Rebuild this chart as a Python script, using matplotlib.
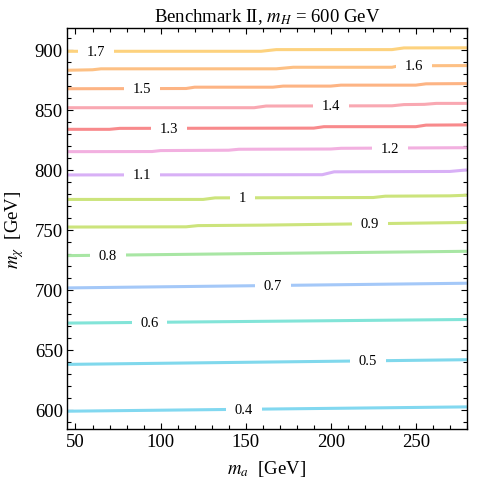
import numpy as np
import matplotlib
matplotlib.use('Agg')
import matplotlib.pyplot as plt
from matplotlib.ticker import MultipleLocator

plt.rcParams['font.family'] = ['Liberation Serif', 'DejaVu Serif']
plt.rcParams['mathtext.fontset'] = 'stix'

# contour levels and their colours
levels = ['0.4', '0.5', '0.6', '0.7', '0.8', '0.9', '1', '1.1', '1.2', '1.3', '1.4', '1.5', '1.6', '1.7']
colors = ['#82d8f0', '#80d8ec', '#82e4d8', '#a4c8f8', '#a8e6a4', '#cce47c', '#cce47c',
          '#d8b0f6', '#f2b0e0', '#f88a8c', '#f9a8b2', '#fdb484', '#fdc084', '#fdd27e']

# breakpoints of each contour line (m_a, m_chi)
contour_x = [
    [45, 280],
    [45, 280],
    [45, 280],
    [45, 280],
    [45, 280],
    [45, 115, 122, 160, 280],
    [45, 125, 132, 225, 232, 270, 280],
    [45, 195, 202, 270, 280],
    [45, 95, 100, 140, 146, 200, 206, 280],
    [45, 70, 76, 190, 196, 250, 256, 280],
    [45, 155, 162, 236, 243, 255, 262, 280],
    [45, 115, 120, 166, 172, 200, 206, 250, 256, 280],
    [45, 60, 65, 168, 178, 236, 240, 280],
    [45, 159, 168, 236, 243, 280],
]
contour_y = [
    [598.8, 602.4],
    [637.8, 641.7],
    [672.2, 675.2],
    [701.5, 705.4],
    [728.4, 732.0],
    [752.2, 752.4, 753.4, 753.8, 756.0],
    [775.2, 775.2, 776.5, 776.8, 777.9, 778.2, 778.7],
    [795.6, 795.8, 798.2, 798.5, 799.8],
    [815.0, 815.1, 815.9, 816.2, 817.0, 817.2, 817.8, 818.3],
    [833.6, 833.6, 834.4, 834.6, 835.8, 835.8, 837.1, 837.3],
    [851.6, 851.6, 853.0, 853.2, 854.2, 854.4, 855.2, 855.2],
    [867.4, 867.6, 868.7, 868.7, 869.6, 869.6, 870.4, 870.4, 871.5, 871.7],
    [882.8, 883.2, 884.0, 884.0, 885.3, 885.3, 886.5, 886.7],
    [898.6, 898.6, 900.0, 900.0, 901.4, 901.5],
]
# where the level label sits along each line
label_x = [149, 222, 93.5, 166, 69, 223, 148, 89, 235, 105, 200, 89, 249, 62]

fig = plt.figure(figsize=(4.98, 4.89), dpi=100)
ax = fig.add_axes([0.1345, 0.1207, 0.803, 0.82])

for lev, col, xs, ys, lx in zip(levels, colors, contour_x, contour_y, label_x):
    ax.plot(xs, ys, color=col, lw=2.2, solid_capstyle='butt', zorder=2)
    ly = np.interp(lx, xs, ys)
    ax.text(lx, ly, lev, fontsize=10.5, ha='center', va='center', zorder=3,
            bbox=dict(boxstyle='square,pad=0.6', mutation_aspect=0.3,
                      fc='white', ec='none'))

ax.set_xlim(45, 280)
ax.set_ylim(584, 918)
ax.xaxis.set_major_locator(MultipleLocator(50))
ax.xaxis.set_minor_locator(MultipleLocator(10))
ax.yaxis.set_major_locator(MultipleLocator(50))
ax.yaxis.set_minor_locator(MultipleLocator(10))
ax.tick_params(which='both', direction='in', top=True, right=True, labelsize=13.5, width=0.8)
ax.tick_params(which='major', length=4.5, pad=3)
ax.tick_params(which='minor', length=3)
for sp in ax.spines.values():
    sp.set_linewidth(1.0)

ax.set_title(r'Benchmark II, $m_H$ = 600 GeV', fontsize=13.5, pad=5)
ax.set_xlabel(r'$m_a$  [GeV]', fontsize=13.5, labelpad=6)
ax.set_ylabel(r'$m_\chi$  [GeV]', fontsize=13.5, labelpad=6)

fig.savefig('out.png', dpi=100)
